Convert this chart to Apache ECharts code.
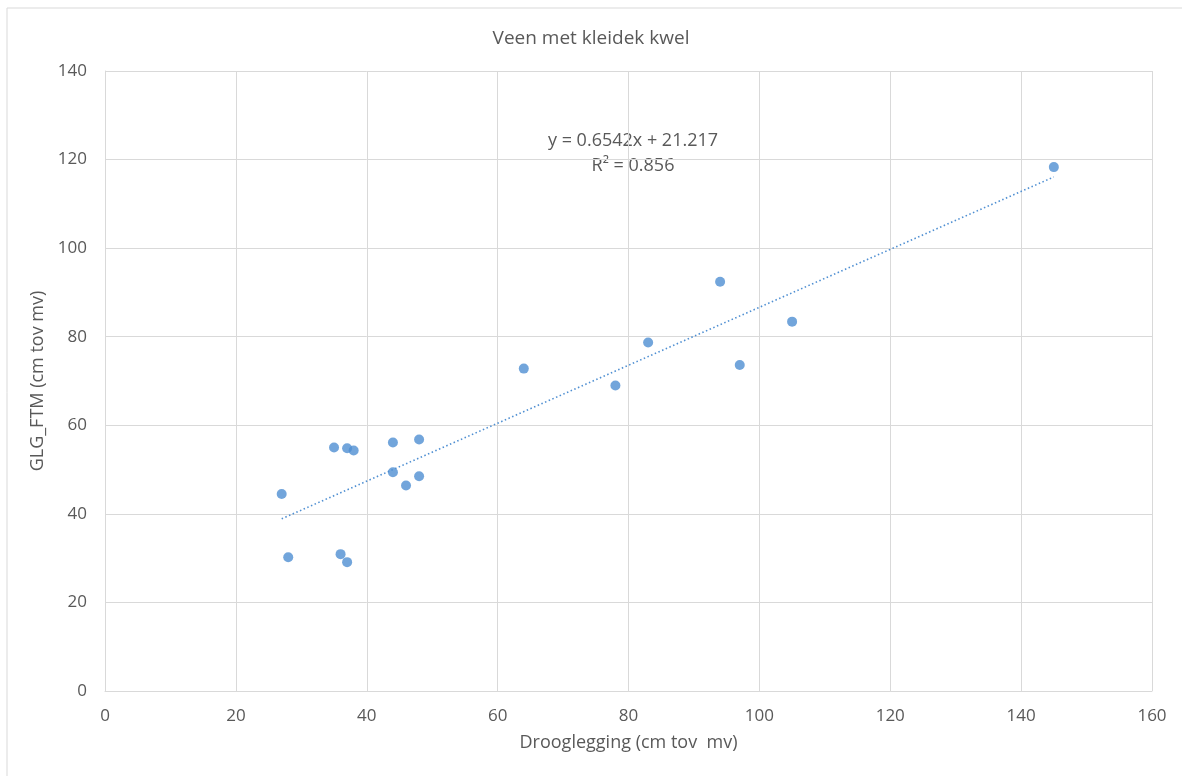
<!DOCTYPE html>
<html>
<head>
<meta charset="utf-8">
<script src="https://cdn.jsdelivr.net/npm/echarts@6/dist/echarts.min.js"></script>
<style>
html,body{margin:0;padding:0;background:#fff;}
#chart{width:1182px;height:776px;}
</style>
</head>
<body>
<div id="chart"></div>
<script>
// Data
var drooglegging = [27, 28, 35, 36, 37, 37, 38, 44, 44, 46, 48, 48, 64, 78, 83, 94, 97, 105, 145];
var glgFtm      = [44.5, 30.2, 55.0, 30.9, 54.8, 29.1, 54.3, 56.1, 49.4, 46.4, 56.8, 48.5, 72.8, 69.0, 78.7, 92.4, 73.6, 83.4, 118.3];
// Linear trendline endpoints (y = 0.6542x + 21.217 at x = 27 and x = 145)
var trendX = [27, 145];
var trendY = [38.88, 116.08];
var trendLabel = ['y = 0.6542x + 21.217', 'R² = 0.856'];
var titleText = 'Veen met kleidek kwel';
var xName = 'Drooglegging (cm tov  mv)';
var yName = 'GLG_FTM (cm tov mv)';

var pts = drooglegging.map(function (x, i) { return [x, glgFtm[i]]; });
var trend = trendX.map(function (x, i) { return [x, trendY[i]]; });

var FONT = '"Open Sans", "Liberation Sans", sans-serif';
var TXT = '#595959';
var GRID = '#d9d9d9';
var BLUE = '#4f8fd2';

var chart = echarts.init(document.getElementById('chart'), null, {renderer: 'canvas'});
chart.setOption({
  backgroundColor: '#fff',
  animation: false,
  textStyle: {fontFamily: FONT},
  title: {
    text: titleText, left: 'center', top: 24,
    textStyle: {color: TXT, fontSize: 19, fontWeight: 'normal', fontFamily: FONT}
  },
  graphic: [
    {type: 'rect', shape: {x: 7, y: 8, width: 1200, height: 800},
     style: {fill: 'none', stroke: '#d9d9d9', lineWidth: 1}, silent: true, z: -1},
    {type: 'text', x: 633, y: 141,
     style: {text: trendLabel[0], fill: TXT, font: '18px ' + FONT, align: 'center', verticalAlign: 'middle'}},
    {type: 'text', x: 633, y: 166,
     style: {text: trendLabel[1], fill: TXT, font: '18px ' + FONT, align: 'center', verticalAlign: 'middle'}}
  ],
  grid: {left: 105, right: 30, top: 71, bottom: 85, containLabel: false},
  xAxis: {
    type: 'value', min: 0, max: 160, interval: 20,
    name: xName, nameLocation: 'middle', nameGap: 43,
    nameTextStyle: {color: TXT, fontSize: 18, fontFamily: FONT},
    axisLine: {show: true, lineStyle: {color: GRID, width: 1}},
    axisTick: {show: false},
    axisLabel: {color: TXT, fontSize: 17, margin: 17, fontFamily: FONT},
    splitLine: {show: true, lineStyle: {color: GRID, width: 1}}
  },
  yAxis: {
    type: 'value', min: 0, max: 140, interval: 20,
    name: yName, nameLocation: 'middle', nameGap: 52,
    nameTextStyle: {color: TXT, fontSize: 18, fontFamily: FONT},
    axisLine: {show: true, lineStyle: {color: GRID, width: 1}},
    axisTick: {show: false},
    axisLabel: {color: TXT, fontSize: 17, margin: 18, fontFamily: FONT},
    splitLine: {show: true, lineStyle: {color: GRID, width: 1}}
  },
  series: [
    {
      type: 'line', data: trend, symbol: 'none', silent: true,
      lineStyle: {color: BLUE, width: 1.6, type: [1.5, 2.5]}, z: 1
    },
    {
      type: 'scatter', data: pts, symbol: 'circle', symbolSize: 10,
      itemStyle: {color: BLUE}, z: 2
    }
  ]
});
</script>
</body>
</html>
